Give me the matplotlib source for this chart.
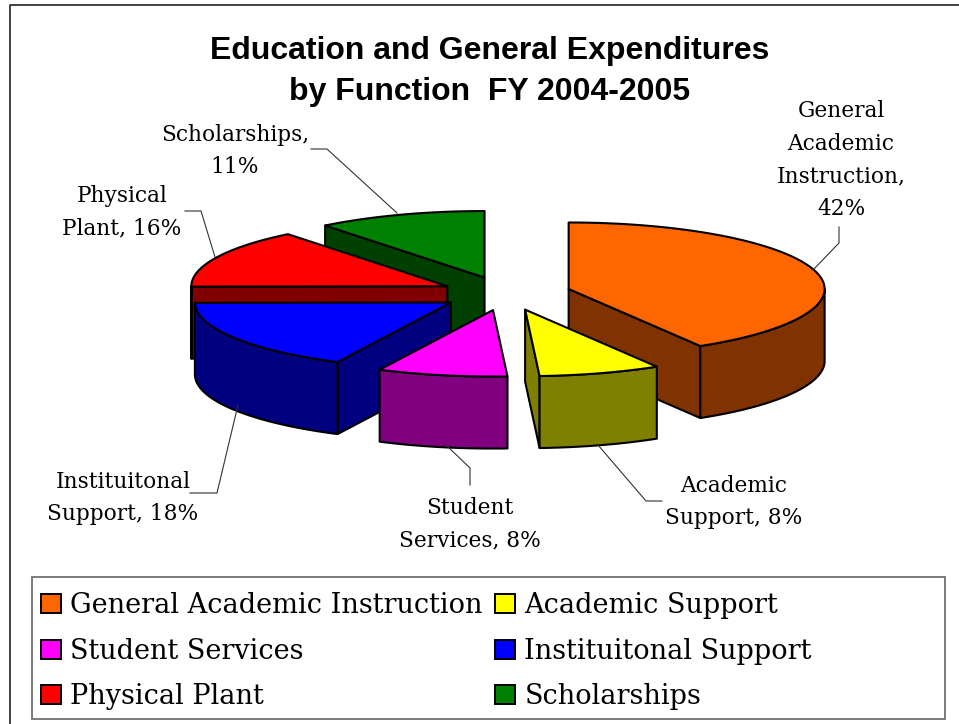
import numpy as np
import matplotlib
matplotlib.use("Agg")
import matplotlib.pyplot as plt
from matplotlib.patches import Patch, Polygon, Rectangle

# Data
categories = ["General Academic Instruction", "Academic Support", "Student Services",
              "Instituitonal Support", "Physical Plant", "Scholarships"]
# slice sizes as drawn (the printed labels add up to 103, so these are measured from the slices)
shares = [41.4, 7.7, 8.2, 17.6, 14.4, 10.7]
top_colors = ["#FF6600", "#FFFF00", "#FF00FF", "#0000FF", "#FF0000", "#008000"]
side_colors = ["#803300", "#808000", "#800080", "#000080", "#800000", "#004000"]
slice_labels = ["General\nAcademic\nInstruction,\n42%", "Academic\nSupport, 8%", "Student\nServices, 8%",
                "Instituitonal\nSupport, 18%", "Physical\nPlant, 16%", "Scholarships,\n11%"]

# Pie geometry, in image pixels
CX, CY = 506, 293.5
RX, RY = 256, 66.5
EXPLODE = 65
DEPTH = 72
EDGE = 1.5
SERIF = "DejaVu Serif"

# label centre + leader line for each slice
label_pos = [(841, 160), (734, 502), (470, 524), (123, 498), (122, 212), (235, 151)]
leaders = [
    [(839, 227), (839, 243), (813, 270)],
    [(662, 501), (646, 501), (598, 445)],
    [(470, 485), (470, 468), (446, 445)],
    [(190, 493), (217, 493), (238, 405)],
    [(185, 211), (201, 211), (215, 257)],
    [(311, 149), (327, 149), (397, 213)],
]
# back to front
draw_order = [5, 4, 0, 3, 2, 1]


def rim(cx, cy, t):
    return np.column_stack([cx + RX * np.sin(t), cy - RY * np.cos(t)])


def draw_slice(ax, start, end, top, side):
    mid = (start + end) / 2
    cx = CX + EXPLODE * np.sin(mid)
    cy = CY - EXPLODE * RY / RX * np.cos(mid)
    apex = np.array([cx, cy])
    down = np.array([0, DEPTH])

    def face(points, color):
        ax.add_patch(Polygon(points, closed=True, facecolor=color, edgecolor="black",
                             linewidth=EDGE, joinstyle="round"))

    # cut faces, only when they turn towards the viewer
    if np.sin(start) < -1e-6:
        edge_pt = rim(cx, cy, np.array([start]))[0]
        face([apex, edge_pt, edge_pt + down, apex + down], side)
    if np.sin(end) > 1e-6:
        edge_pt = rim(cx, cy, np.array([end]))[0]
        face([apex, edge_pt, edge_pt + down, apex + down], side)

    # outer wall, front half only
    w0, w1 = max(start, np.pi / 2), min(end, 3 * np.pi / 2)
    if w1 > w0:
        arc = rim(cx, cy, np.linspace(w0, w1, 60))
        face(np.vstack([arc, (arc + down)[::-1]]), side)

    arc = rim(cx, cy, np.linspace(start, end, 120))
    face(np.vstack([apex, arc]), top)


fig = plt.figure(figsize=(9.59, 7.24), dpi=100)
ax = fig.add_axes([0, 0, 1, 1])
ax.set_xlim(0, 959)
ax.set_ylim(724, 0)
ax.axis("off")

# chart frame runs off the right and bottom of the crop
ax.plot([9.5, 9.5, 959], [724, 5, 5], color="#333333", lw=1.3)

ax.text(490, 71.5, "Education and General Expenditures\nby Function  FY 2004-2005",
        family="Liberation Sans", weight="bold", fontsize=23, ha="center", va="center",
        linespacing=1.46)

fractions = np.array(shares) / sum(shares)
edges = np.concatenate([[0], np.cumsum(fractions)]) * 2 * np.pi
for i in draw_order:
    draw_slice(ax, edges[i], edges[i + 1], top_colors[i], side_colors[i])

for i, text in enumerate(slice_labels):
    xs, ys = zip(*leaders[i])
    ax.plot(xs, ys, color="#333333", lw=0.8)
    ax.text(label_pos[i][0], label_pos[i][1], text, family=SERIF, fontsize=15.6,
            ha="center", va="center", linespacing=1.63, color="black")

# legend frame + legend, filled column by column
ax.add_patch(Rectangle((32, 577), 913, 142, facecolor="white", edgecolor="#666666", lw=1.2))
legend_order = [0, 2, 4, 1, 3, 5]
handles = [Patch(facecolor=top_colors[i], edgecolor="black", linewidth=1.4, label=categories[i])
           for i in legend_order]
legend = ax.legend(handles=handles, ncol=2, loc="upper left", bbox_to_anchor=(32, 583),
                   bbox_transform=ax.transData, frameon=False, borderaxespad=0, borderpad=0.33,
                   prop={"family": SERIF, "size": 19.5}, handlelength=0.74, handleheight=0.7,
                   handletextpad=0.33, labelspacing=0.69, columnspacing=0.48, labelcolor="black")

fig.savefig("out.png", dpi=100)
